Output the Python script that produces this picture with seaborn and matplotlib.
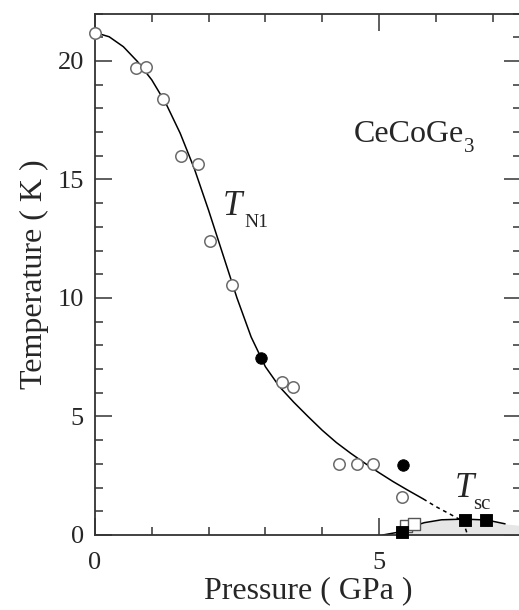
import matplotlib
matplotlib.use("Agg")
import matplotlib.pyplot as plt
from matplotlib.ticker import MultipleLocator
import seaborn as sns

# open circles (T_N1)
open_p = [0.0, 0.73, 0.90, 1.20, 1.51, 1.81, 2.02, 2.41, 3.30, 3.49, 4.30, 4.61, 4.90, 5.40]
open_t = [21.18, 19.72, 19.73, 18.38, 15.99, 15.65, 12.42, 10.55, 6.47, 6.23, 3.0, 3.0, 3.0, 1.62]
# filled circles
full_p = [2.93, 5.42]
full_t = [7.45, 2.95]
# superconducting points
sq_full_p = [5.40, 6.51, 6.89]
sq_full_t = [0.13, 0.64, 0.63]
sq_open_p = [5.47, 5.61]
sq_open_t = [0.39, 0.46]

# guide lines
tn_p = [0.0, 0.25, 0.5, 0.75, 1.0, 1.25, 1.5, 1.75, 2.0, 2.25, 2.5, 2.75, 3.0,
        3.25, 3.5, 3.75, 4.0, 4.25, 4.5, 4.75, 5.0, 5.25, 5.5, 5.78]
tn_t = [21.2, 21.02, 20.6, 19.97, 19.2, 18.2, 16.95, 15.45, 13.7, 11.85, 10.0, 8.35, 7.1,
        6.25, 5.6, 5.0, 4.42, 3.9, 3.45, 3.03, 2.63, 2.25, 1.9, 1.52]
tn_dash_p = [5.78, 6.0, 6.25, 6.48, 6.56]
tn_dash_t = [1.52, 1.2, 0.88, 0.58, 0.0]
sc_p = [5.07, 5.3, 5.5, 5.8, 6.1, 6.5, 6.9, 7.22]
sc_t = [0.0, 0.1, 0.3, 0.52, 0.64, 0.67, 0.63, 0.47]
sc_fill_p = sc_p + [7.5]
sc_fill_t = sc_t + [0.4]

sns.set_theme(style="ticks")
plt.rcParams["font.family"] = ["Liberation Serif", "DejaVu Serif"]

fig = plt.figure(figsize=(5.19, 6.10), dpi=100)
ax = fig.add_axes([0.183, 0.123, 0.8208, 0.8548])

ax.fill_between(sc_fill_p, sc_fill_t, 0, color="#e6e6e6", lw=0, zorder=1)
sns.lineplot(x=tn_p, y=tn_t, color="black", lw=1.1, ax=ax, zorder=2)
sns.lineplot(x=tn_dash_p, y=tn_dash_t, color="black", lw=1.1, ax=ax, zorder=2)
ax.lines[-1].set_linestyle((0, (2.5, 2.5)))
sns.lineplot(x=sc_p, y=sc_t, color="black", lw=1.1, ax=ax, zorder=2)

sns.scatterplot(x=open_p, y=open_t, s=68, marker="o", facecolor="white",
                edgecolor="#6a6a6a", linewidth=1.1, ax=ax, zorder=3, clip_on=False)
sns.scatterplot(x=full_p, y=full_t, s=68, marker="o", color="black",
                edgecolor="black", ax=ax, zorder=3)
sns.scatterplot(x=sq_open_p, y=sq_open_t, s=64, marker="s", facecolor="white",
                edgecolor="#555555", linewidth=1.0, ax=ax, zorder=3)
sns.scatterplot(x=sq_full_p, y=sq_full_t, s=64, marker="s", color="black",
                edgecolor="black", ax=ax, zorder=4, clip_on=False)

ax.set_xlim(0, 7.5)
ax.set_ylim(0, 22)
ax.set_xticks([0, 5])
ax.set_yticks([0, 5, 10, 15, 20])
ax.xaxis.set_minor_locator(MultipleLocator(1))
ax.yaxis.set_minor_locator(MultipleLocator(1))
ax.tick_params(which="both", direction="in", top=True, right=True, width=1.1, color="#333333")
ax.tick_params(which="major", length=12)
ax.tick_params(which="minor", length=6)
ax.tick_params(axis="x", which="major", labelsize=19, pad=12)
ax.tick_params(axis="y", which="major", labelsize=19, pad=8)
for s in ax.spines.values():
    s.set_linewidth(1.3)
    s.set_color("#333333")

ax.set_xlabel("Pressure ( GPa )", fontsize=23, labelpad=2)
ax.set_ylabel("Temperature ( K )", fontsize=23, labelpad=6)

# labels: main text plus a separate smaller subscript
ax.text(4.55, 16.6, "CeCoGe", fontsize=23, ha="left", va="baseline")
ax.text(6.50, 16.15, "3", fontsize=15, ha="left", va="baseline")
ax.text(2.25, 13.5, "T", fontsize=25, style="italic", ha="left", va="baseline")
ax.text(2.63, 12.98, "N1", fontsize=14, ha="left", va="baseline")
ax.text(6.34, 1.6, "T", fontsize=25, style="italic", ha="left", va="baseline")
ax.text(6.66, 1.08, "sc", fontsize=15, ha="left", va="baseline")

fig.savefig("out.png", dpi=100)
